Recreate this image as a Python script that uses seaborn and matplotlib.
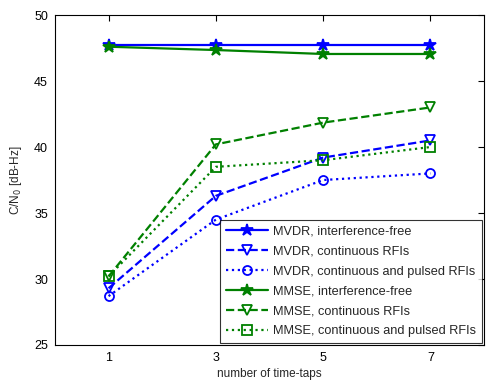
import seaborn as sns
import matplotlib.pyplot as plt
import pandas as pd

taps = [1, 3, 5, 7]
mvdr_free = [47.7, 47.7, 47.7, 47.7]
mvdr_cont = [29.3, 36.3, 39.2, 40.5]
mvdr_pulsed = [28.7, 34.5, 37.5, 38.0]
mmse_free = [47.6, 47.35, 47.05, 47.05]
mmse_cont = [30.2, 40.2, 41.85, 43.0]
mmse_pulsed = [30.2, 38.5, 39.0, 40.0]

labels = ['MVDR, interference-free', 'MVDR, continuous RFIs',
          'MVDR, continuous and pulsed RFIs', 'MMSE, interference-free',
          'MMSE, continuous RFIs', 'MMSE, continuous and pulsed RFIs']
series = [mvdr_free, mvdr_cont, mvdr_pulsed, mmse_free, mmse_cont, mmse_pulsed]
colors = ['#0000ff'] * 3 + ['#008000'] * 3
styles = ['-', '--', ':'] * 2
markers = ['*', 'v', 'o', '*', 'v', 's']

sns.set_style('white')
plt.rcParams['font.family'] = ['Liberation Sans', 'DejaVu Sans']

fig = plt.figure(figsize=(4.86, 3.81), dpi=100)
ax = fig.add_axes([0.113, 0.0945, 0.883, 0.866])

for lab, vals, c, ls, m in zip(labels, series, colors, styles, markers):
    df = pd.DataFrame({'taps': taps, 'cn0': vals})
    filled = m == '*'
    sns.lineplot(data=df, x='taps', y='cn0', ax=ax, color=c, linestyle=ls,
                 linewidth=1.6, marker=m, markersize=9 if filled else 6.5,
                 markerfacecolor=c if filled else 'none',
                 markeredgecolor=c, markeredgewidth=1.3, label=lab)

ax.set_xlim(0, 8)
ax.set_ylim(25, 50)
ax.set_xticks(taps)
ax.set_yticks([25, 30, 35, 40, 45, 50])
ax.tick_params(direction='in', top=True, right=True, labelsize=9, length=4,
               width=0.8, colors='black', pad=5)
for s in ax.spines.values():
    s.set_color('black')
    s.set_linewidth(0.8)
ax.set_xlabel('number of time-taps', fontsize=8.5, labelpad=3)
ax.set_ylabel('C/N$_0$ [dB-Hz]', fontsize=8.5, labelpad=7)

leg = ax.legend(loc='lower right', fontsize=9.2, frameon=True, fancybox=False,
                borderaxespad=0.15, handlelength=3.3, labelspacing=0.62,
                borderpad=0.45, handletextpad=0.4)
leg.get_frame().set_edgecolor('black')
leg.get_frame().set_linewidth(0.8)

fig.savefig('out.png', dpi=100)
